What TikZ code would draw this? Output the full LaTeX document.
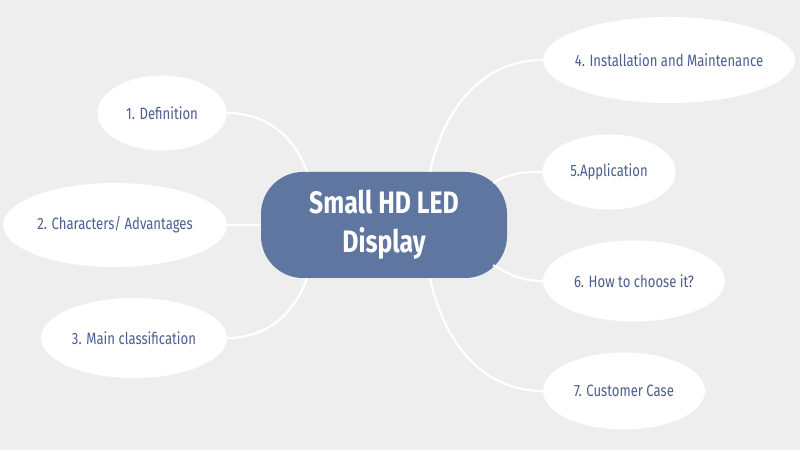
\documentclass[tikz,border=0pt]{standalone}
\definecolor{MapBack}{HTML}{EEEEEE}
\definecolor{MapSlate}{HTML}{5F76A0}
\definecolor{MapInk}{HTML}{4B5F8E}
\definecolor{MapWhite}{HTML}{ffffff}
\usepackage{fontspec}
\newfontfamily\mapfont{Fira Sans}[FakeStretch=0.8]
\usepackage{tikz}
\usetikzlibrary{shapes.geometric,positioning,calc}
\tikzset{
    % Central topic style
    topicnode/.style={
        draw=none,
        fill=MapSlate,
        text=MapWhite,
        rounded corners=42pt,
        minimum width=246pt,
        minimum height=106pt,
        align=center,
        font=\mapfont\bfseries\fontsize{31}{39}\selectfont
    },
    % Branch bubble style
    bubblenode/.style={
        ellipse,
        draw=none,
        fill=MapWhite,
        text=MapInk,
        inner xsep=-25pt,
        inner ysep=0pt,
        align=center,
        font=\mapfont\fontsize{16.4}{18}\selectfont
    },
    % Branch line style
    branch/.style={
        draw=MapWhite,
        line width=2.2pt
    }
}
\begin{document}
\begin{tikzpicture}[x=1pt,y=1pt]
    % Background
    \fill[MapBack] (0,0) rectangle (800,450);
    \useasboundingbox (0,0) rectangle (800,450);

    % Main topic
    \node[topicnode] (main) at (384,225) {Small HD LED\\Display};

    % Left branches
    \node[bubblenode,minimum width=129pt,minimum height=75pt] (def) at (162,337) {1. Definition};
    \node[bubblenode,minimum width=224pt,minimum height=84pt] (chr) at (115,225) {2. Characters/ Advantages};
    \node[bubblenode,minimum width=186pt,minimum height=80pt] (cls) at (134,112) {3. Main classification};

    % Right branches
    \node[bubblenode,minimum width=252pt,minimum height=86pt] (ins) at (669,390) {4. Installation and Maintenance};
    \node[bubblenode,minimum width=133pt,minimum height=75pt] (app) at (609,278) {5.Application};
    \node[bubblenode,minimum width=182pt,minimum height=81pt] (how) at (634,169) {6. How to choose it?};
    \node[bubblenode,minimum width=162pt,minimum height=77pt] (cus) at (624,59) {7. Customer Case};

    % Lines
    \draw[branch] (def.east) to[out=0,in=110] ([xshift=-77pt]main.north);
    \draw[branch] (chr.east) -- (main.west);
    \draw[branch] (cls.east) to[out=0,in=-110] ([xshift=-77pt]main.south);
    \draw[branch] ([xshift=46pt]main.north) to[out=78,in=180] (ins.west);
    \draw[branch] ([shift={(-14pt,-11pt)}]main.north east) to[out=30,in=180] (app.west);
    \draw[branch] ([shift={(-14pt,13pt)}]main.south east) to[out=-30,in=180] (how.west);
    \draw[branch] ([xshift=46pt]main.south) to[out=-78,in=180] (cus.west);
\end{tikzpicture}
\end{document}
